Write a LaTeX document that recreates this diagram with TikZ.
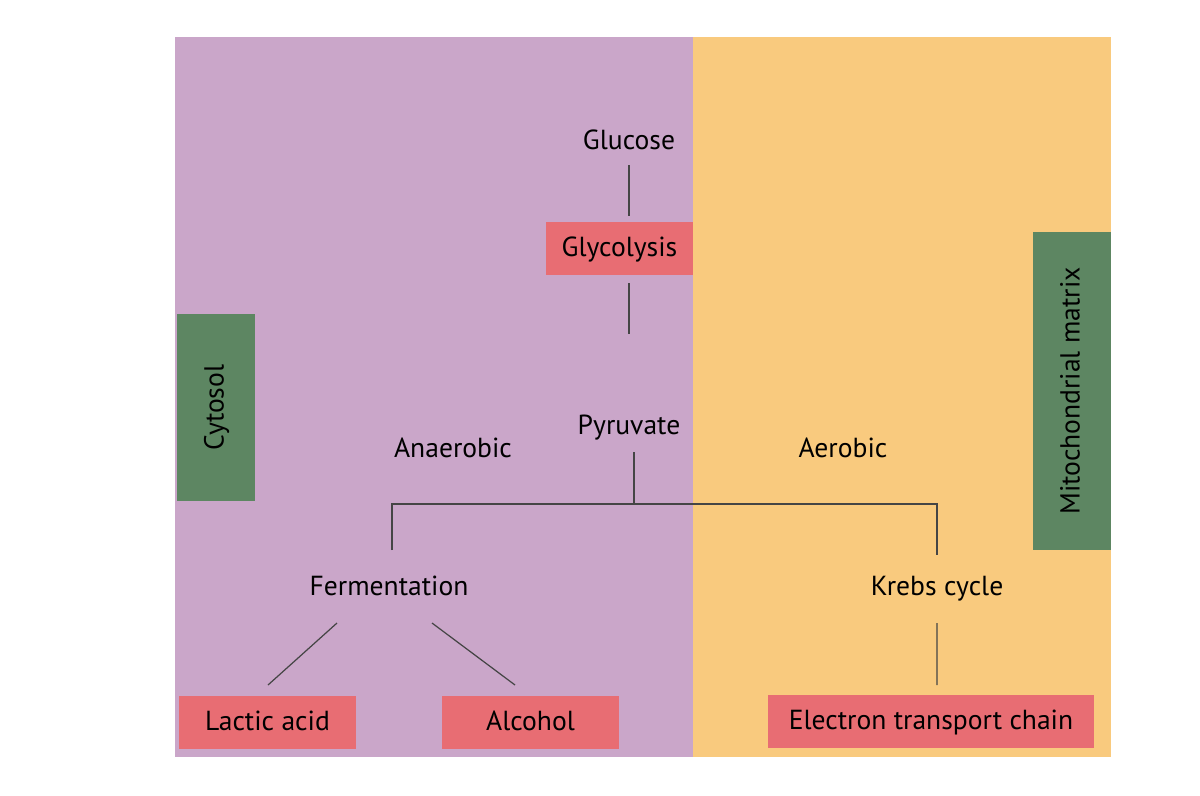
\documentclass[tikz,border=0pt]{standalone}
\usepackage{fontspec}
\setmainfont{PT Sans}
\definecolor{anaer}{HTML}{CAA6C9}
\definecolor{aer}{HTML}{F9CA7E}
\definecolor{place}{HTML}{5D8662}
\definecolor{step}{HTML}{E86D73}
\definecolor{wire}{HTML}{454545}
\begin{document}
\begin{tikzpicture}[x=0.02cm,y=-0.02cm,semithick,
  txt/.style={inner sep=0pt,text height=0.86em,text depth=0pt,font=\fontsize{15.7}{18}\selectfont},
  lbl/.style={txt},
  stepbox/.style={txt,fill=step},
  placebox/.style={txt,fill=place,rotate=90},
  link/.style={draw=wire,line width=0.7pt}]
\useasboundingbox (0,0) rectangle (1200,795);
\fill[anaer] (175,37) rectangle (693,757);
\fill[aer] (693,37) rectangle (1111,757);
\node[placebox,minimum width=187*0.02cm,minimum height=78*0.02cm] (cyto) at (216,407.5) {Cytosol};
\node[placebox,minimum width=318*0.02cm,minimum height=78*0.02cm] (mito) at (1072,391) {Mitochondrial matrix};
\node[lbl] (glucose) at (629,142) {Glucose};
\node[stepbox,minimum width=147*0.02cm,minimum height=53*0.02cm] (glycolysis) at (619.5,248.5) {Glycolysis};
\node[lbl] (pyruvate) at (629,427) {Pyruvate};
\node[lbl] (anaerobic) at (453,450) {Anaerobic};
\node[lbl] (aerobic) at (843,450) {Aerobic};
\node[lbl] (ferm) at (389,588) {Fermentation};
\node[lbl] (krebs) at (937,588) {Krebs cycle};
\node[stepbox,minimum width=177*0.02cm,minimum height=53*0.02cm] (lactic) at (267.5,722.5) {Lactic acid};
\node[stepbox,minimum width=177*0.02cm,minimum height=53*0.02cm] (alcohol) at (530.5,722.5) {Alcohol};
\node[stepbox,minimum width=326*0.02cm,minimum height=53*0.02cm] (etc) at (931,721.5) {Electron transport chain};
\coordinate (g1) at (629,165);
\coordinate (g2) at (629,216);
\coordinate (g3) at (629,283);
\coordinate (g4) at (629,334);
\coordinate (p1) at (634,452);
\coordinate (p2) at (634,504);
\coordinate (f1) at (392,550);
\coordinate (k1) at (937,555);
\coordinate (f2) at (337,623);
\coordinate (f3) at (432,623);
\coordinate (la) at (268,685);
\coordinate (al) at (515,685);
\coordinate (k2) at (937,623);
\coordinate (et) at (937,685);
\draw[link] (g1)--(g2) (g3)--(g4) (p1)--(p2);
\draw[link] (f1)|-(p2)-|(k1);
\draw[link] (f2)--(la) (f3)--(al) (k2)--(et);
\end{tikzpicture}
\end{document}
